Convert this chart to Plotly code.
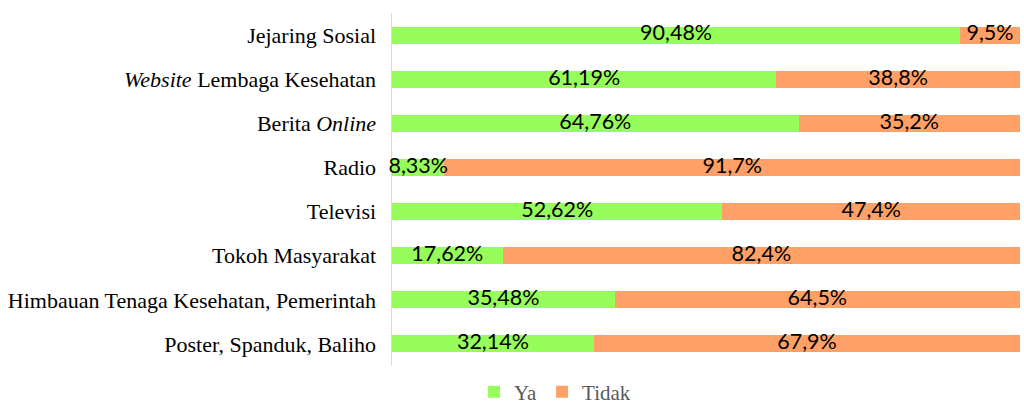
import plotly.graph_objects as go

categories = [
    "Jejaring Sosial",
    "<i>Website</i> Lembaga Kesehatan",
    "Berita <i>Online</i>",
    "Radio",
    "Televisi",
    "Tokoh Masyarakat",
    "Himbauan Tenaga Kesehatan, Pemerintah",
    "Poster, Spanduk, Baliho",
]
ya = [90.48, 61.19, 64.76, 8.33, 52.62, 17.62, 35.48, 32.14]
tidak = [9.5, 38.8, 35.2, 91.7, 47.4, 82.4, 64.5, 67.9]
series_names = ["Ya", "Tidak"]
colors = ["#97FD5B", "#FFA066"]


def fmt(v, d):
    return f"{v:.{d}f}".replace(".", ",") + "%"


fig = go.Figure()
base = [0.0] * len(categories)
for name, vals, dec, col in [
    (series_names[0], ya, 2, colors[0]),
    (series_names[1], tidak, 1, colors[1]),
]:
    fig.add_trace(
        go.Bar(
            y=categories,
            x=vals,
            name=name,
            orientation="h",
            marker=dict(color=col, line=dict(width=0)),
            textposition="none",
            hoverinfo="skip",
        )
    )
    mids = [b + v / 2 for b, v in zip(base, vals)]
    fig.add_trace(
        go.Scatter(
            x=mids,
            y=categories,
            mode="text",
            text=[fmt(v, dec) for v in vals],
            textposition="middle center",
            textfont=dict(family="Lato", size=21.5, color="#000000"),
            cliponaxis=False,
            showlegend=False,
            hoverinfo="skip",
        )
    )
    base = [b + v for b, v in zip(base, vals)]

fig.update_layout(
    barmode="stack",
    bargap=0.615,
    width=1024,
    height=406,
    margin=dict(l=392, r=4, t=13, b=40, autoexpand=False),
    paper_bgcolor="white",
    plot_bgcolor="white",
    showlegend=True,
    legend=dict(
        orientation="h",
        x=0.1306,
        xanchor="left",
        y=-0.074,
        yanchor="middle",
        font=dict(family="Liberation Serif", size=21, color="#595959"),
        traceorder="normal",
        bgcolor="rgba(0,0,0,0)",
    ),
    xaxis=dict(
        range=[0, 100],
        showgrid=False,
        zeroline=False,
        showticklabels=False,
        showline=False,
        fixedrange=True,
        automargin=False,
    ),
    yaxis=dict(
        categoryorder="array",
        categoryarray=categories,
        autorange="reversed",
        showgrid=False,
        zeroline=False,
        showline=True,
        linecolor="#D9D9D9",
        linewidth=1.5,
        layer="below traces",
        ticks="",
        ticklabelstandoff=10,
        automargin=False,
        fixedrange=True,
        tickfont=dict(family="Liberation Serif", size=22, color="#000000"),
    ),
)

fig.write_html(
    "out.html",
    config={"displayModeBar": False, "staticPlot": True},
    post_script="document.body.style.margin='0';document.body.style.overflow='hidden';",
)
